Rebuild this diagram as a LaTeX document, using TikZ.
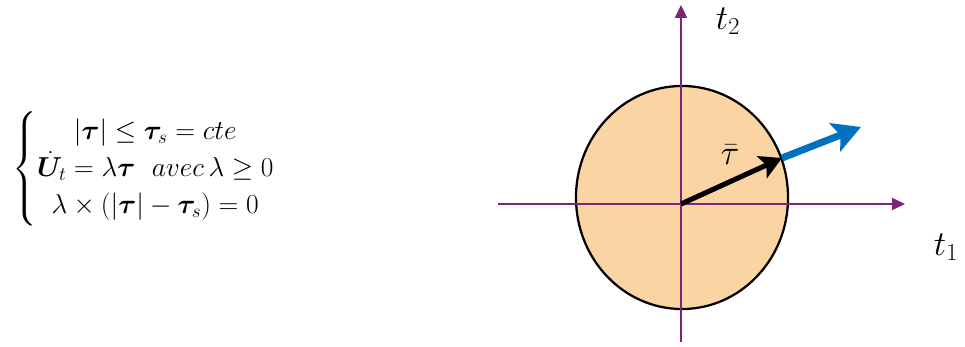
\documentclass[tikz,border=0pt]{standalone}
\usepackage{amsmath, amssymb, bm}
\usepackage{graphicx}
\usepackage{xcolor}
\definecolor{axisviolet}{RGB}{126, 36, 120}
\definecolor{critorange}{RGB}{250, 212, 162}
\definecolor{flowblue}{RGB}{0, 112, 192}
\usetikzlibrary{
  arrows.meta,
  positioning,
  shapes.geometric
}

\begin{document}
\begin{tikzpicture}[x=0.025cm, y=0.025cm,
  axis/.style={-{Triangle[length=3.2mm, width=3mm]}, line width=0.9pt, draw=axisviolet},
  critbox/.style={
    draw=black, line width=1.6pt, fill=critorange,
    ellipse, minimum width=5.3cm, minimum height=5.575cm, inner sep=0pt
  },
  stressarrow/.style={-{Stealth[length=5.5mm, width=6mm, inset=1.2mm]}, line width=3.6pt, draw=black},
  slip/.style={-{Stealth[length=7mm, width=7.5mm, inset=1.5mm]}, line width=5pt, draw=flowblue},
  axlabel/.style={font=\fontsize{26}{30}\selectfont}
]
\useasboundingbox (0,0) rectangle (965,347);
\node[critbox] (crit) at (682,149.5) {};
\coordinate (o)  at (681,143);
\coordinate (xa) at (498,143);
\coordinate (xb) at (905,143);
\coordinate (ya) at (681,5);
\coordinate (yb) at (681,342);
\coordinate (tip) at (782,189);
\coordinate (out) at (861,220);
\draw[axis] (xa) -- (xb);
\draw[axis] (ya) -- (yb);
\draw[stressarrow] (o) -- (tip);
\draw[slip] (tip) -- (out);
\node[font=\fontsize{24}{28}\selectfont] (tau) at (730,192) {$\bar{\tau}$};
\node[axlabel] (t2) at (728,326) {$t_2$};
\node[axlabel] (t1) at (946,100) {$t_1$};
\node[font=\fontsize{17.28}{21}\selectfont] (law) at (144,178) {\scalebox{1.13}{\renewcommand{\arraystretch}{1.1}$\left\{\begin{array}{@{}c@{}}
  |\bm{\tau}| \leq \bm{\tau}_s = cte\\
  \dot{\bm{U}}_t = \lambda\bm{\tau}\ \ avec\,\lambda \geq 0\\
  \lambda\times(|\bm{\tau}| - \bm{\tau}_s) = 0
\end{array}\right.$}};
\end{tikzpicture}
\end{document}
